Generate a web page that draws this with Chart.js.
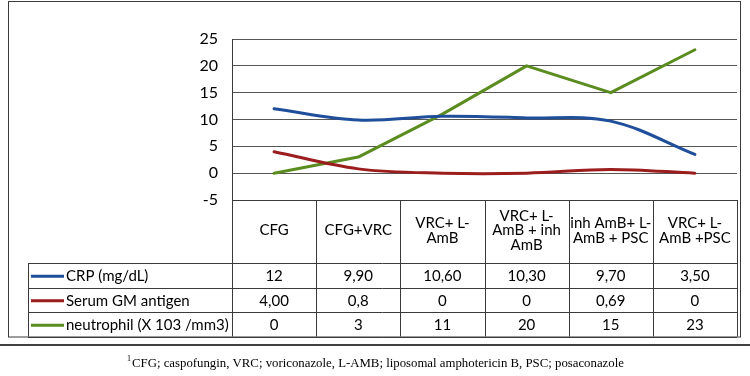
<!DOCTYPE html>
<html>
<head>
<meta charset="utf-8">
<script src="https://cdn.jsdelivr.net/npm/chart.js@4"></script>
<style>
    body { margin: 0; background: #fff; }
    canvas { display: block; }
</style>
</head>
<body>
<canvas id="chart" width="750" height="376"></canvas>
<script>
const categories = [
    ['CFG'],
    ['CFG+VRC'],
    ['VRC+ L-', 'AmB'],
    ['VRC+ L-', 'AmB + inh', 'AmB'],
    ['inh AmB+ L-', 'AmB + PSC'],
    ['VRC+ L-', 'AmB +PSC']
];
const seriesNames = ['CRP (mg/dL)', 'Serum GM antigen', 'neutrophil (X 103 /mm3)'];
const crp = [12, 9.9, 10.6, 10.3, 9.7, 3.5];
const gm = [4, 0.8, 0, 0, 0.69, 0];
const neutrophil = [0, 3, 11, 20, 15, 23];
const crpText = ['12', '9,90', '10,60', '10,30', '9,70', '3,50'];
const gmText = ['4,00', '0,8', '0', '0', '0,69', '0'];
const neutrophilText = ['0', '3', '11', '20', '15', '23'];
const yTicks = [-5, 0, 5, 10, 15, 20, 25];
const footnote = 'CFG; caspofungin, VRC; voriconazole, L-AMB; liposomal amphotericin B, PSC; posaconazole';

const colors = ['#1f4e9a', '#9b1d1d', '#5b8c1f'];
const font = 'Lato, "Open Sans", sans-serif';

const tablePlugin = {
    id: 'dataTable',
    afterDraw(chart) {
        const ctx = chart.ctx;
        const x = chart.scales.x;
        const area = chart.chartArea;
        const n = categories.length;
        const colW = (area.right - area.left) / n;
        const top = area.bottom;
        const headBottom = 263;
        const rowH = 24.5;
        const tableBottom = headBottom + rowH * 3;
        const legendLeft = 28;
        const rows = [crpText, gmText, neutrophilText];

        ctx.save();
        ctx.strokeStyle = '#3a3a3a';
        ctx.lineWidth = 1;

        // outer frame
        ctx.strokeRect(8.5, 1.5, 732, tableBottom - 1);

        // column lines
        ctx.beginPath();
        for (let i = 0; i <= n; i++) {
            const cx = Math.round(area.left + colW * i) + 0.5;
            ctx.moveTo(cx, i === 0 ? area.top : top);
            ctx.lineTo(cx, tableBottom);
        }
        ctx.moveTo(area.left, top + 0.5);
        ctx.lineTo(area.right, top + 0.5);
        for (let r = 0; r <= 3; r++) {
            const ry = Math.round(headBottom + rowH * r) + 0.5;
            ctx.moveTo(legendLeft, ry);
            ctx.lineTo(area.right, ry);
        }
        ctx.moveTo(legendLeft + 0.5, headBottom);
        ctx.lineTo(legendLeft + 0.5, tableBottom);
        ctx.stroke();

        // header labels
        ctx.fillStyle = '#000';
        ctx.font = '15px ' + font;
        ctx.textAlign = 'center';
        ctx.textBaseline = 'middle';
        const lh = 14.5;
        categories.forEach((lines, i) => {
            const cx = x.getPixelForValue(i);
            const cy = (top + headBottom) / 2 - 1 - (lines.length - 1) * lh / 2;
            lines.forEach((t, k) => ctx.fillText(t, cx, cy + k * lh));
        });

        // rows
        rows.forEach((vals, r) => {
            const cy = headBottom + rowH * r + rowH / 2 + 1;
            ctx.strokeStyle = colors[r];
            ctx.lineWidth = 3;
            ctx.beginPath();
            ctx.moveTo(31, cy);
            ctx.lineTo(64, cy);
            ctx.stroke();
            ctx.textAlign = 'left';
            ctx.fillText(seriesNames[r], 66, cy);
            ctx.textAlign = 'center';
            vals.forEach((v, i) => ctx.fillText(v, x.getPixelForValue(i), cy));
        });

        // footnote
        ctx.strokeStyle = '#000';
        ctx.lineWidth = 1.5;
        ctx.beginPath();
        ctx.moveTo(0, 345);
        ctx.lineTo(750, 345);
        ctx.stroke();
        ctx.textAlign = 'left';
        ctx.textBaseline = 'alphabetic';
        ctx.font = '8px "Liberation Serif", serif';
        ctx.fillText('1', 127, 361);
        ctx.font = '12.8px "Liberation Serif", serif';
        ctx.fillText(footnote, 132, 367);
        ctx.restore();
    }
};

new Chart(document.getElementById('chart'), {
    type: 'line',
    data: {
        labels: categories,
        datasets: [
            { label: seriesNames[0], data: crp, borderColor: colors[0], tension: 0.35 },
            { label: seriesNames[1], data: gm, borderColor: colors[1], tension: 0.35 },
            { label: seriesNames[2], data: neutrophil, borderColor: colors[2], tension: 0 }
        ]
    },
    options: {
        responsive: false,
        animation: false,
        events: [],
        layout: { padding: { top: 39, left: 191, right: 13, bottom: 176 } },
        elements: {
            point: { radius: 0 },
            line: { borderWidth: 3, borderCapStyle: 'round', borderJoinStyle: 'round' }
        },
        plugins: {
            legend: { display: false },
            tooltip: { enabled: false }
        },
        scales: {
            x: {
                type: 'category',
                display: false,
                offset: true
            },
            y: {
                min: -5,
                max: 25,
                afterFit: s => { s.width = 41; },
                afterBuildTicks: s => { s.ticks = yTicks.map(v => ({ value: v })); },
                grid: { color: ctx => ctx.tick.value === -5 ? '#bbbbbb' : '#555555', lineWidth: 1, drawTicks: false },
                border: { display: true, color: '#3a3a3a', width: 1 },
                ticks: {
                    padding: 14,
                    color: '#000',
                    font: { family: font, size: 16 }
                }
            }
        }
    },
    plugins: [tablePlugin]
});
</script>
</body>
</html>
